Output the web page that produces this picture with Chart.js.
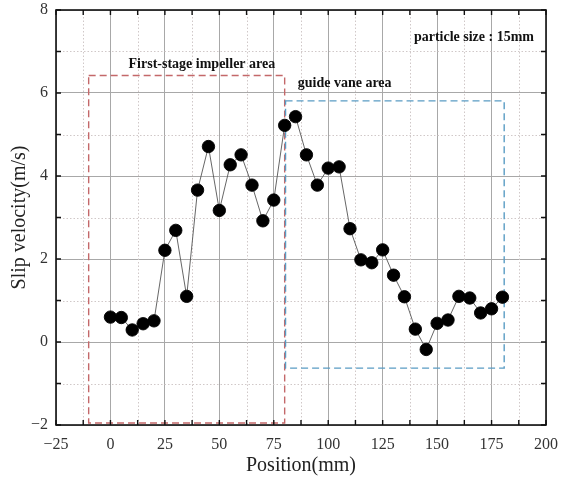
<!DOCTYPE html>
<html>
<head>
<meta charset="utf-8">
<script src="https://cdn.jsdelivr.net/npm/chart.js@4.4.0/dist/chart.umd.min.js"></script>
<style>
  html, body { margin: 0; padding: 0; background: #fff; }
  #wrap { width: 565px; height: 483px; }
</style>
</head>
<body>
<div id="wrap"><canvas id="slipChart" width="565" height="483"></canvas></div>
<script>
// Data
const positions = [0, 5, 10, 15, 20, 25, 30, 35, 40, 45, 50, 55, 60, 65, 70, 75, 80, 85, 90,
  95, 100, 105, 110, 115, 120, 125, 130, 135, 140, 145, 150, 155, 160, 165, 170, 175, 180];
const slipVelocity = [0.60, 0.59, 0.29, 0.44, 0.51, 2.21, 2.69, 1.10, 3.66, 4.71, 3.17, 4.27, 4.51, 3.78, 2.92, 3.42, 5.22, 5.43, 4.51,
  3.78, 4.19, 4.22, 2.73, 1.98, 1.91, 2.22, 1.61, 1.09, 0.31, -0.18, 0.45, 0.53, 1.10, 1.06, 0.70, 0.80, 1.08];

// region boxes: [xMin, xMax, yMin, yMax]
const impellerBox = [-10, 80, -1.95, 6.42];
const guideVaneBox = [80.4, 180.8, -0.63, 5.81];

// annotation texts: [text, x, y, align]
const annotations = [
  ['First-stage impeller area', 42, 6.7, 'center'],
  ['guide vane area', 86, 6.24, 'left'],
  ['particle size : 15mm', 194.5, 7.33, 'right']
];

const serif = '"Liberation Serif", "DejaVu Serif", serif';
const minus = v => (v < 0 ? '\u2212' + Math.abs(v) : String(v));

const canvas = document.getElementById('slipChart');

const framePlugin = {
  id: 'frame',
  beforeDatasetsDraw(chart) {
    const { ctx, chartArea: a, scales: { x, y } } = chart;
    ctx.save();
    // minor dotted grid
    ctx.strokeStyle = '#d0c8c8';
    ctx.lineWidth = 1;
    ctx.setLineDash([1.5, 2]);
    x.ticks.forEach(t => {
      if (t.value % 25 !== 0) {
        const px = Math.round(x.getPixelForValue(t.value)) + 0.5;
        ctx.beginPath(); ctx.moveTo(px, a.top); ctx.lineTo(px, a.bottom); ctx.stroke();
      }
    });
    y.ticks.forEach(t => {
      if (t.value % 2 !== 0) {
        const py = Math.round(y.getPixelForValue(t.value)) + 0.5;
        ctx.beginPath(); ctx.moveTo(a.left, py); ctx.lineTo(a.right, py); ctx.stroke();
      }
    });
    // region boxes
    ctx.lineWidth = 1.4;
    ctx.setLineDash([7, 4]);
    const box = (b, color) => {
      const x0 = x.getPixelForValue(b[0]), x1 = x.getPixelForValue(b[1]);
      const y0 = y.getPixelForValue(b[3]), y1 = y.getPixelForValue(b[2]);
      ctx.strokeStyle = color;
      ctx.strokeRect(x0, y0, x1 - x0, y1 - y0);
    };
    box(impellerBox, '#c4686a');
    box(guideVaneBox, '#5a9cc4');
    ctx.restore();
  },
  afterDatasetsDraw(chart) {
    const { ctx, chartArea: a, scales: { x, y } } = chart;
    ctx.save();
    // annotation text
    ctx.fillStyle = '#111';
    ctx.font = 'bold 14px ' + serif;
    ctx.textBaseline = 'middle';
    annotations.forEach(([txt, vx, vy, align]) => {
      ctx.textAlign = align;
      ctx.fillText(txt, x.getPixelForValue(vx), y.getPixelForValue(vy));
    });
    // inward ticks on all sides
    ctx.strokeStyle = '#111';
    ctx.lineWidth = 1.4;
    const len = 5;
    x.ticks.forEach(t => {
      const px = x.getPixelForValue(t.value);
      ctx.beginPath();
      ctx.moveTo(px, a.bottom); ctx.lineTo(px, a.bottom - len);
      ctx.moveTo(px, a.top); ctx.lineTo(px, a.top + len);
      ctx.stroke();
    });
    y.ticks.forEach(t => {
      const py = y.getPixelForValue(t.value);
      ctx.beginPath();
      ctx.moveTo(a.left, py); ctx.lineTo(a.left + len, py);
      ctx.moveTo(a.right, py); ctx.lineTo(a.right - len, py);
      ctx.stroke();
    });
    // frame
    ctx.lineWidth = 1.6;
    ctx.strokeRect(a.left, a.top, a.right - a.left, a.bottom - a.top);
    ctx.restore();
  }
};

new Chart(canvas, {
  type: 'scatter',
  data: {
    datasets: [{
      data: positions.map((p, i) => ({ x: p, y: slipVelocity[i] })),
      showLine: true,
      borderColor: '#555',
      borderWidth: 0.9,
      backgroundColor: '#000',
      pointBackgroundColor: '#000',
      pointBorderColor: '#000',
      pointRadius: 6.2,
      pointHoverRadius: 6.2
    }]
  },
  options: {
    animation: false,
    responsive: false,
    layout: { padding: { top: 10, right: 19, left: 0, bottom: 0 } },
    plugins: { legend: { display: false }, tooltip: { enabled: false } },
    scales: {
      x: {
        type: 'linear',
        min: -25, max: 200,
        afterFit(scale) {
          scale.height = 58;
          scale.paddingLeft = 0;
          scale.paddingRight = 0;
        },
        ticks: {
          stepSize: 12.5,
          autoSkip: false,
          maxRotation: 0,
          padding: 10,
          color: '#333',
          font: { family: serif, size: 16 },
          callback: v => (v % 25 === 0 ? minus(v) : '')
        },
        grid: {
          drawTicks: false,
          color: ctx => (ctx.tick && ctx.tick.value % 25 === 0 ? '#a8a8a8' : 'rgba(0,0,0,0)'),
          lineWidth: 1
        },
        border: { display: false },
        title: {
          display: true, text: 'Position(mm)', color: '#222',
          font: { family: serif, size: 20 }, padding: { top: 0, bottom: 5 }
        }
      },
      y: {
        min: -2, max: 8,
        afterFit(scale) {
          scale.width = 56;
          scale.paddingTop = 0;
          scale.paddingBottom = 0;
        },
        ticks: {
          stepSize: 1,
          autoSkip: false,
          padding: 8,
          color: '#333',
          font: { family: serif, size: 16 },
          callback: v => (v % 2 === 0 ? minus(v) : '')
        },
        grid: {
          drawTicks: false,
          color: ctx => (ctx.tick && ctx.tick.value % 2 === 0 ? '#a8a8a8' : 'rgba(0,0,0,0)'),
          lineWidth: 1
        },
        border: { display: false },
        title: {
          display: true, text: 'Slip velocity(m/s)', color: '#222',
          font: { family: serif, size: 20 }, padding: { top: 8, bottom: 0 }
        }
      }
    }
  },
  plugins: [framePlugin]
});
</script>
</body>
</html>
